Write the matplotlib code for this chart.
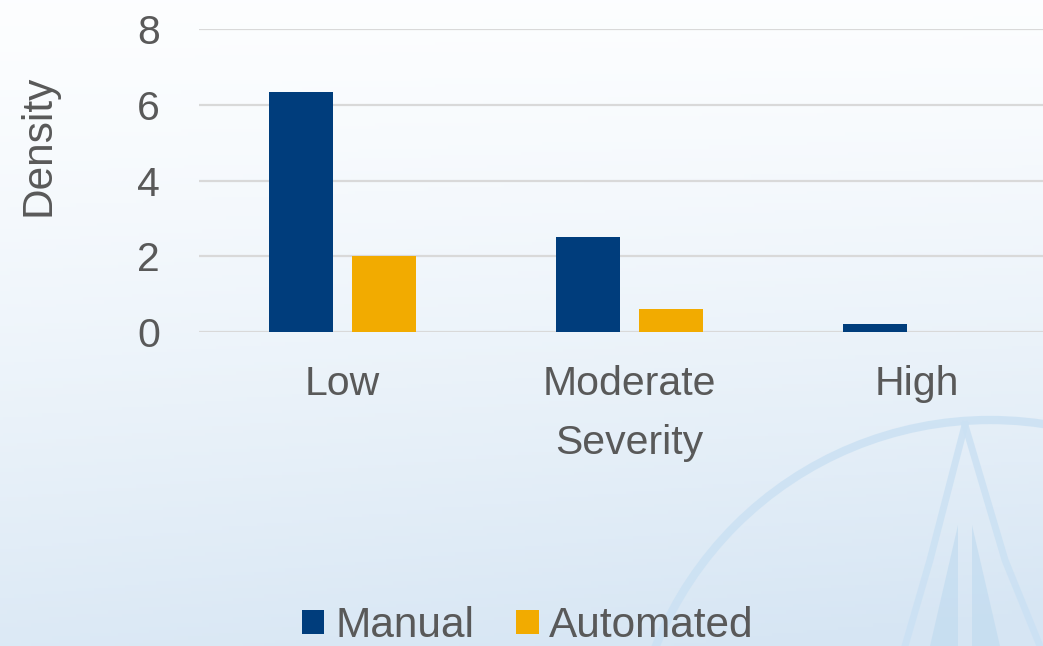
import numpy as np
import matplotlib.pyplot as plt
from matplotlib.patches import Circle

plt.rcParams['font.family'] = ['Liberation Sans', 'DejaVu Sans']

# severity densities for the two review modes
categories = ['Low', 'Moderate', 'High']
manual = [6.33, 2.52, 0.22]
automated = [2.0, 0.6, 0.0]
yticks = [0, 2, 4, 6, 8]

col_manual = '#003d7c'
col_auto = '#f2ab00'
txt = '#595959'

W, H = 1043, 646
fig = plt.figure(figsize=(W / 100, H / 100), dpi=100)

# soft white-to-blue backdrop
bg = fig.add_axes([0, 0, 1, 1], zorder=0)
yy, xx = np.mgrid[0:1:200j, 0:1:300j]
shade = np.clip(yy ** 1.3 * 0.85 + 0.2 * yy * xx, 0, 1)
top = np.array([0.99, 0.995, 1.0])
bot = np.array([0.84, 0.90, 0.955])
img = top[None, None, :] * (1 - shade[..., None]) + bot[None, None, :] * shade[..., None]
bg.imshow(img, extent=[0, W, H, 0], aspect='auto')
bg.add_patch(Circle((990, 780), 360, fill=False, lw=6, ec='#cbe1f3', alpha=0.85))
bg.plot([965, 930, 905], [425, 560, 646], color='#cbe1f3', lw=5, alpha=0.85)
bg.plot([965, 1005, 1040], [425, 560, 646], color='#cbe1f3', lw=5, alpha=0.85)
bg.fill([958, 930, 958], [525, 646, 646], color='#c2dcf0', alpha=0.7, lw=0)
bg.fill([972, 1000, 972], [525, 646, 646], color='#c2dcf0', alpha=0.7, lw=0)
bg.set_xlim(0, W)
bg.set_ylim(H, 0)
bg.axis('off')

ax = fig.add_axes([199 / W, (H - 332) / H, 861 / W, 303 / H], zorder=1)
ax.patch.set_alpha(0)

x = np.arange(len(categories))
w = 0.223
ax.bar(x - 0.143, manual, w, color=col_manual, label='Manual', zorder=3)
ax.bar(x + 0.143, automated, w, color=col_auto, label='Automated', zorder=3)

ax.set_xlim(-0.5, 2.5)
ax.set_ylim(0, 8)
ax.set_yticks(yticks)
ax.set_xticks(x)
ax.set_xticklabels(categories)
ax.yaxis.grid(True, color='#d9d9d9', lw=1.6, zorder=0)
ax.set_axisbelow(True)
for s in ax.spines.values():
    s.set_visible(False)
ax.tick_params(axis='both', length=0, labelsize=29.5, colors=txt)
ax.tick_params(axis='x', pad=24)
ax.tick_params(axis='y', pad=28)
ax.set_xlabel('Severity', fontsize=29.5, color=txt, labelpad=15)
fig.text(38 / W, 1 - 145 / H, 'Density', rotation=90, fontsize=30.5,
         color=txt, ha='center', va='center')

fig.legend(loc='center', bbox_to_anchor=(528 / W, 1 - 626 / H), ncol=2,
           frameon=False, fontsize=30.5, labelcolor=txt, handlelength=0.53,
           handleheight=0.53, handletextpad=0.25, columnspacing=1.0)

fig.savefig('out.png', dpi=100)
